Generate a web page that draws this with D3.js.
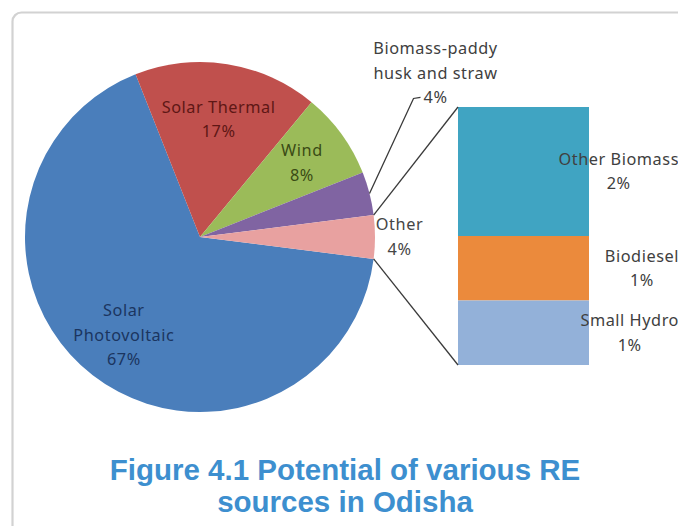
<!DOCTYPE html>
<html>
<head>
<meta charset="utf-8">
<script src="https://cdn.jsdelivr.net/npm/d3@7"></script>
<style>
  html, body { margin: 0; padding: 0; background: #ffffff; }
  svg { display: block; }
</style>
</head>
<body>
<svg id="chart" width="678" height="526"></svg>
<script>
// Potential of RE sources in Odisha (per cent)
const pieCategories = ["Solar Photovoltaic", "Solar Thermal", "Wind", "Biomass-paddy husk and straw", "Other"];
const pieValues = [67, 17, 8, 4, 4];
const pieColors = ["#4a7ebb", "#c0504d", "#9bbb59", "#8064a2", "#e8a1a0"];
const pieTextColors = ["#1b3560", "#5e1715", "#3a4b15", "#404040", "#454545"];

// Breakdown of the "Other" slice
const barCategories = ["Other Biomass", "Biodiesel", "Small Hydro"];
const barValues = [2, 1, 1];
const barColors = ["#40a4c2", "#eb8a3c", "#93b1d9"];

const titleLines = ["Figure 4.1 Potential of various RE", "sources in Odisha"];

const svg = d3.select("#chart");
const labelFont = "'Noto Sans', 'DejaVu Sans', sans-serif";

// frame with rounded corner
svg.append("rect")
  .attr("x", 12.5).attr("y", 12.5)
  .attr("width", 720).attr("height", 600)
  .attr("rx", 9)
  .attr("fill", "none")
  .attr("stroke", "#d2d2d2")
  .attr("stroke-width", 2.2);

// ---- pie ----
const cx = 200, cy = 237, R = 175;
const total = d3.sum(pieValues);
const otherShare = pieValues[pieValues.length - 1] / total;
// the last ("Other") slice is centred on the 3 o'clock direction
const start = Math.PI / 2 + otherShare * Math.PI;
const pie = d3.pie().sort(null).startAngle(start).endAngle(start + 2 * Math.PI);
const arcs = pie(pieValues);
const arc = d3.arc().innerRadius(0).outerRadius(R);

const gPie = svg.append("g").attr("transform", `translate(${cx},${cy})`);
gPie.selectAll("path.slice")
  .data(arcs)
  .join("path")
  .attr("class", "slice")
  .attr("d", arc)
  .attr("fill", (d, i) => pieColors[i]);

const polar = (r, a) => [r * Math.sin(a), -r * Math.cos(a)];
const mid = d => (d.startAngle + d.endAngle) / 2;

const fs = 16.3, lh = 24.5, ls = 0.55;

function multiline(g, lines, x, y, color, anchor) {
  const t = g.append("text")
    .attr("x", x).attr("y", y)
    .attr("text-anchor", anchor || "middle")
    .attr("font-family", labelFont)
    .attr("font-size", fs)
    .attr("letter-spacing", ls)
    .attr("fill", color);
  const y0 = -(lines.length - 1) * lh / 2;
  lines.forEach((ln, k) => {
    t.append("tspan").attr("x", x).attr("y", y + y0 + k * lh).attr("dy", "0.35em").text(ln);
  });
  return t;
}

const pct = v => Math.round(v) + "%";

// inside labels
const insideR = [0.71, 0.68, 0.72];
const insideLines = [["Solar", "Photovoltaic"], ["Solar Thermal"], ["Wind"]];
[0, 1, 2].forEach(i => {
  const [x, y] = polar(R * insideR[i], mid(arcs[i]));
  multiline(gPie, insideLines[i].concat(pct(pieValues[i])), x, y, pieTextColors[i]);
});

// "Other" label outside end
{
  const d = arcs[4];
  const [x, y] = polar(R * 1.14, mid(d));
  multiline(gPie, ["Other", pct(pieValues[4])], x, y, pieTextColors[4]);
}

// biomass label with leader line
{
  const d = arcs[3];
  const [x0, y0] = polar(R, mid(d));
  const elbow = [x0 + 44, y0 - 95];
  const end = [elbow[0] + 7, elbow[1] - 1];
  gPie.append("polyline")
    .attr("points", [[x0, y0], elbow, end].map(p => p.join(",")).join(" "))
    .attr("fill", "none").attr("stroke", "#3a3a3a").attr("stroke-width", 1.3);
  multiline(gPie, ["Biomass-paddy", "husk and straw", pct(pieValues[3])], end[0] + 15, end[1] - lh, pieTextColors[3])
    .selectAll("tspan").filter((_, k) => k === 2).attr("x", end[0] + 15);
}

// ---- bar of "Other" ----
const barX = 458, barW = 131;
const y = d3.scaleLinear().domain([0, d3.sum(barValues)]).range([365, 107]);
const stacked = [];
let acc = d3.sum(barValues);
barValues.forEach((v, i) => { stacked.push({ i, top: acc, bottom: acc - v }); acc -= v; });

svg.selectAll("rect.seg")
  .data(stacked)
  .join("rect")
  .attr("class", "seg")
  .attr("x", barX).attr("width", barW)
  .attr("y", d => y(d.top))
  .attr("height", d => y(d.bottom) - y(d.top))
  .attr("fill", d => barColors[d.i]);

// connector lines from the "Other" slice to the bar
{
  const d = arcs[4];
  const a = polar(R, d.startAngle), b = polar(R, d.endAngle);
  const lines = [
    [[cx + a[0], cy + a[1]], [barX, y(d3.sum(barValues))]],
    [[cx + b[0], cy + b[1]], [barX, y(0)]]
  ];
  svg.selectAll("line.conn")
    .data(lines)
    .join("line")
    .attr("class", "conn")
    .attr("x1", l => l[0][0]).attr("y1", l => l[0][1])
    .attr("x2", l => l[1][0]).attr("y2", l => l[1][1])
    .attr("stroke", "#3a3a3a").attr("stroke-width", 1.3);
}

// bar labels, right aligned near the edge, percent centred under the name
stacked.forEach(d => {
  const ym = (y(d.top) + y(d.bottom)) / 2;
  const t1 = svg.append("text")
    .attr("x", 679).attr("y", ym - lh / 2).attr("dy", "0.35em")
    .attr("text-anchor", "end")
    .attr("font-family", labelFont).attr("font-size", fs)
    .attr("letter-spacing", ls)
    .attr("fill", "#404040")
    .text(barCategories[d.i]);
  const w = t1.node().getComputedTextLength();
  svg.append("text")
    .attr("x", 679 - w / 2).attr("y", ym + lh / 2).attr("dy", "0.35em")
    .attr("text-anchor", "middle")
    .attr("font-family", labelFont).attr("font-size", fs)
    .attr("letter-spacing", ls)
    .attr("fill", "#404040")
    .text(pct(barValues[d.i]));
});

// ---- caption ----
svg.selectAll("text.title")
  .data(titleLines)
  .join("text")
  .attr("class", "title")
  .attr("x", 345)
  .attr("y", (d, i) => 480 + i * 32)
  .attr("text-anchor", "middle")
  .attr("font-family", "'Liberation Sans', Arial, sans-serif")
  .attr("font-weight", "bold")
  .attr("font-size", 29.5)
  .attr("fill", "#3d8fcf")
  .text(d => d);
</script>
</body>
</html>
